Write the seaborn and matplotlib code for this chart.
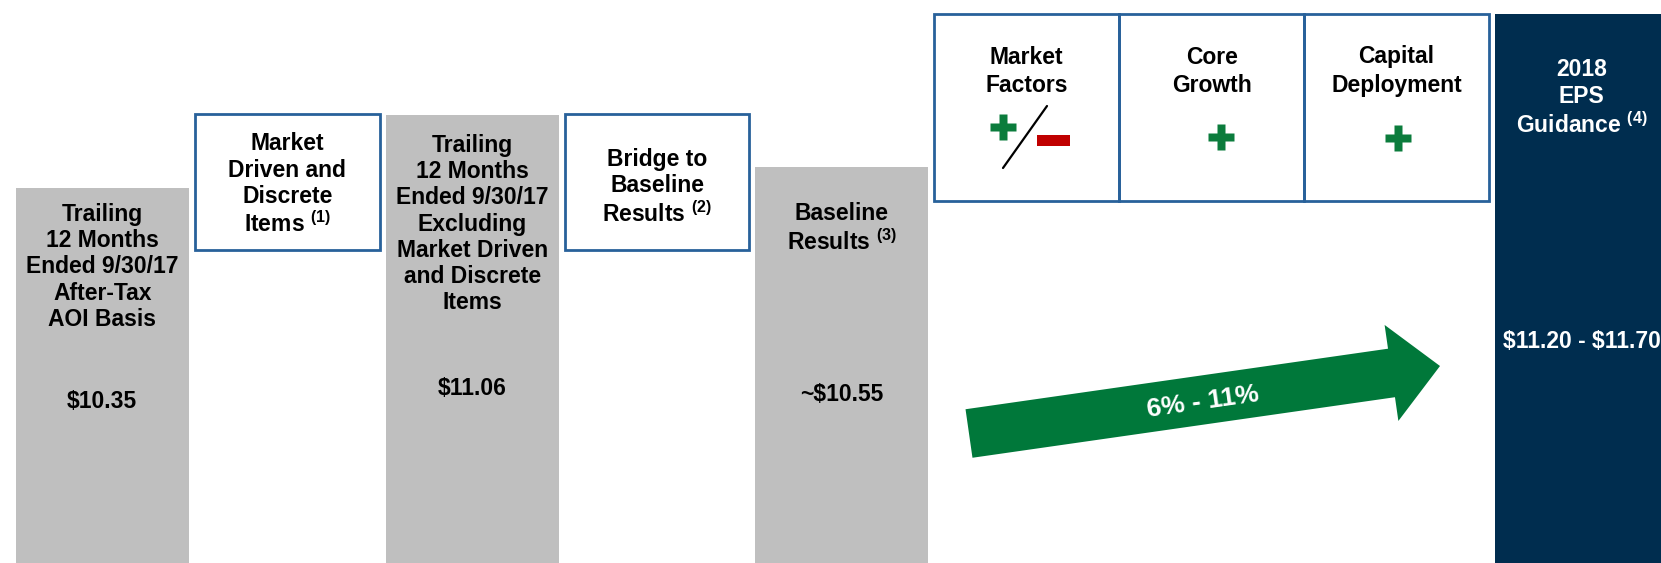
import matplotlib
matplotlib.use("Agg")
import matplotlib.pyplot as plt
import matplotlib.patches as mpatches
import matplotlib.transforms as mtransforms
import seaborn as sns
import pandas as pd

# ---------------- data ----------------
slots = ["ttm", "mdi", "ttm_ex", "bridge", "baseline",
         "market", "core", "capital", "guidance"]

bar_slots = ["ttm", "ttm_ex", "baseline", "guidance"]
bar_values = [10.35, 11.06, 10.55, 12.05]          # guidance column fills the panel
bar_value_labels = [r"\$10.35", r"\$11.06", r"~\$10.55", r"\$11.20 - \$11.70"]

frame_slots = ["mdi", "bridge", "market", "core", "capital"]
frame_bottom = [9.74, 9.74, 10.22, 10.22, 10.22]
frame_top = [11.07, 11.07, 12.05, 12.05, 12.05]

slot_labels = {
    "ttm": "Trailing\n12 Months\nEnded 9/30/17\nAfter-Tax\nAOI Basis",
    "mdi": "Market\nDriven and\nDiscrete\nItems $^{(1)}$",
    "ttm_ex": "Trailing\n12 Months\nEnded 9/30/17\nExcluding\nMarket Driven\nand Discrete\nItems",
    "bridge": "Bridge to\nBaseline\nResults $^{(2)}$",
    "baseline": "Baseline\nResults $^{(3)}$",
    "market": "Market\nFactors",
    "core": "Core\nGrowth",
    "capital": "Capital\nDeployment",
    "guidance": "2018\nEPS\nGuidance $^{(4)}$",
}
growth_label = "6% - 11%"

# ---------------- style ----------------
W, H = 1661, 563
GREY = "#BFBFBF"
NAVY = "#002D4F"
FRAME = "#28619A"
GREEN = "#00783A"
PLUS_GREEN = "#0B7C3C"
RED = "#C00000"

sns.set_theme(style="white")
plt.rcParams["font.family"] = ["Liberation Sans", "DejaVu Sans"]
plt.rcParams["font.weight"] = "bold"
plt.rcParams["mathtext.fontset"] = "custom"
plt.rcParams["mathtext.rm"] = "Liberation Sans:bold"
plt.rcParams["mathtext.bf"] = "Liberation Sans:bold"
plt.rcParams["mathtext.it"] = "Liberation Sans:bold"
plt.rcParams["mathtext.default"] = "rm"

fig = plt.figure(figsize=(W / 100, H / 100), dpi=100)
fig.patch.set_facecolor("white")
ax = fig.add_axes([0, 0, 1, 1])

df = pd.DataFrame({"slot": bar_slots, "eps": bar_values})
palette = {"ttm": GREY, "ttm_ex": GREY, "baseline": GREY, "guidance": NAVY}
sns.barplot(data=df, x="slot", y="eps", order=slots, hue="slot",
            hue_order=bar_slots, palette=palette, dodge=False, width=0.936,
            saturation=1, errorbar=None, legend=False, linewidth=0, ax=ax)

for name, lo, hi in zip(frame_slots, frame_bottom, frame_top):
    i = slots.index(name)
    ax.bar(i, hi - lo, bottom=lo, width=1.0, fill=False,
           edgecolor=FRAME, linewidth=2.0, zorder=3)

ax.set_xlim(-0.5533, 8.4299)
ax.set_ylim(6.672, 12.192)
ax.axis("off")

def fy(py):
    return 1 - py / H

def fx(px):
    return px / W

trans = mtransforms.blended_transform_factory(ax.transData, ax.transAxes)

# label blocks: (first-line cap top in px, colour, linespacing)
label_pos = {
    "ttm": (203, "black", 1.18),
    "mdi": (132.5, "black", 1.18),
    "ttm_ex": (134, "black", 1.18),
    "bridge": (148, "black", 1.18),
    "baseline": (202.5, "black", 1.18),
    "market": (45.5, "black", 1.29),
    "core": (45.5, "black", 1.29),
    "capital": (45.5, "black", 1.29),
    "guidance": (58.5, "white", 1.21),
}
for name, text in slot_labels.items():
    py, col, ls = label_pos[name]
    ax.text(slots.index(name), fy(py), text, transform=trans, ha="center",
            va="top", fontsize=16.5, fontweight="bold", color=col,
            linespacing=ls, zorder=5)

value_baseline = {"ttm": 408, "ttm_ex": 395, "baseline": 401, "guidance": 348}
for name, lab in zip(bar_slots, bar_value_labels):
    ax.text(slots.index(name), fy(value_baseline[name]), lab, transform=trans,
            ha="center", va="baseline", fontsize=16.5, fontweight="bold",
            color="white" if name == "guidance" else "black", zorder=5)

# growth arrow
p0 = ax.transAxes.transform((fx(969), fy(433.5)))
p1 = ax.transAxes.transform((fx(1440), fy(366)))
arrow = mpatches.FancyArrow(p0[0], p0[1], p1[0] - p0[0], p1[1] - p0[1],
                            width=49, head_width=97, head_length=49,
                            length_includes_head=True, color=GREEN, lw=0,
                            transform=mtransforms.IdentityTransform(), zorder=4)
ax.add_patch(arrow)
ax.text(fx(1203), fy(402), growth_label, transform=ax.transAxes, ha="center",
        va="center", rotation=8.16, rotation_mode="anchor", fontsize=19,
        fontweight="bold", color="white", zorder=6)

# plus / minus symbols
for px, py in [(1002.5, 126.7), (1221, 137), (1397.5, 138)]:
    ax.plot([fx(px)], [fy(py)], marker="P", ms=18.5, color=PLUS_GREEN,
            mec="none", linestyle="none", transform=ax.transAxes, zorder=6)
ax.add_patch(mpatches.Rectangle((fx(1037), fy(146)), fx(1070) - fx(1037),
                                fy(135) - fy(146), color=RED, lw=0,
                                transform=ax.transAxes, zorder=6))
ax.plot([fx(1047), fx(1003)], [fy(106), fy(168)], color="black", lw=1.6,
        transform=ax.transAxes, zorder=6)

fig.savefig("out.png", dpi=100, facecolor="white")
